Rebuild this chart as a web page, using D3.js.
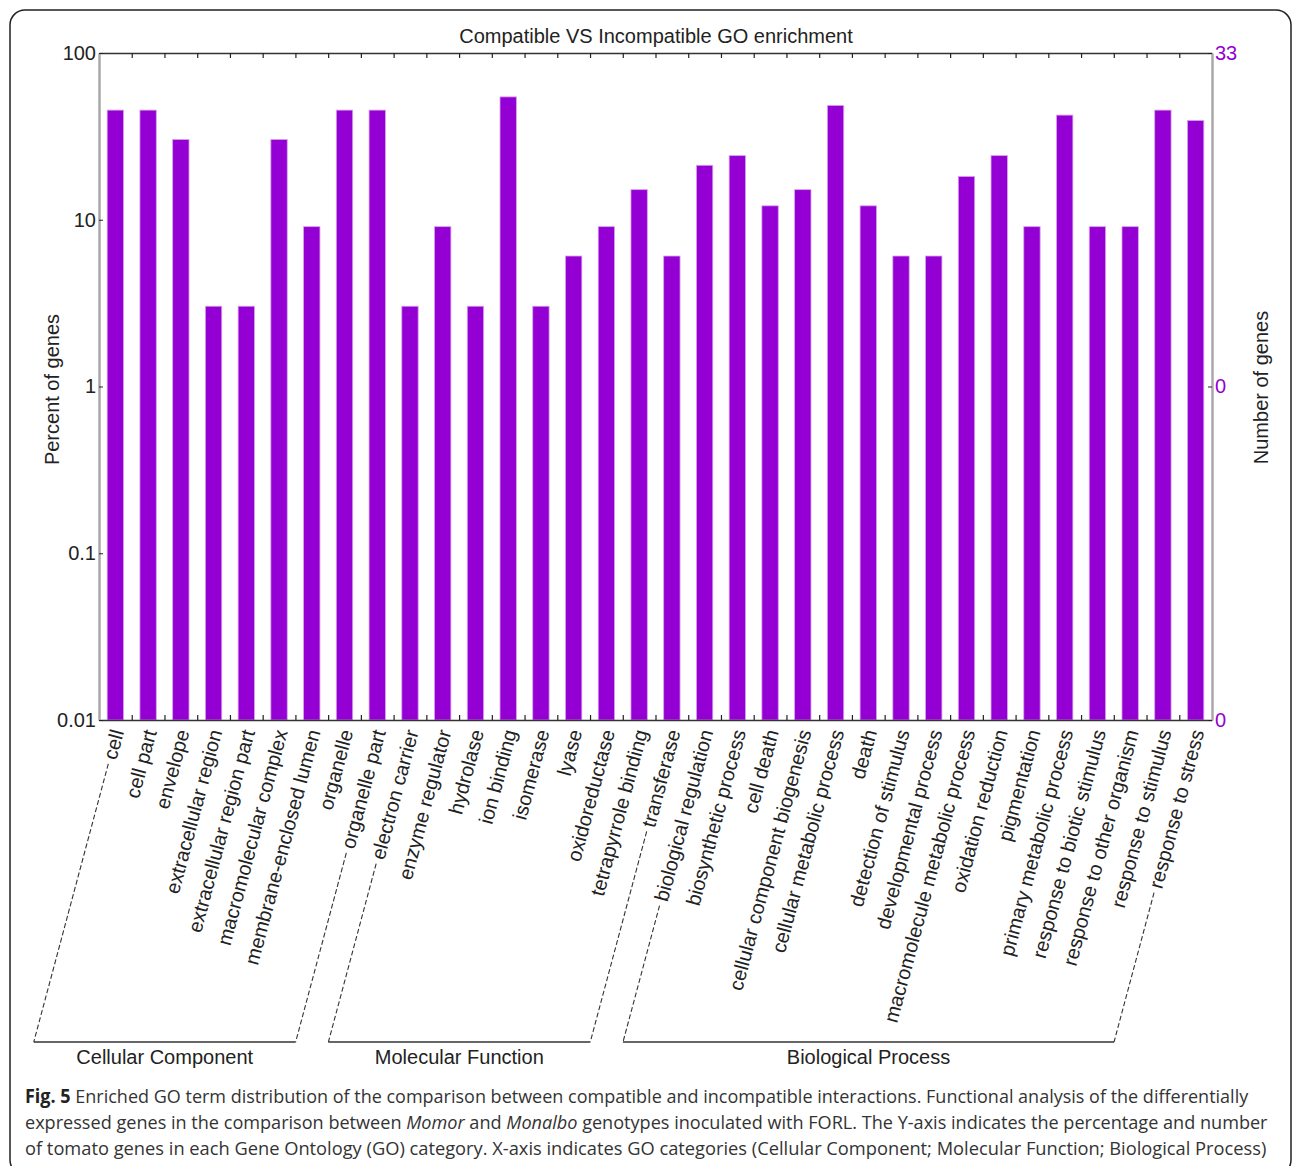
<!DOCTYPE html>
<html>
<head>
<meta charset="utf-8">
<script src="https://cdn.jsdelivr.net/npm/d3@7"></script>
<style>
  body { margin: 0; background: #fff; }
  svg text { font-family: "Liberation Sans", Arial, Helvetica, sans-serif; }
</style>
</head>
<body>
<svg id="fig" width="1292" height="1166"></svg>
<script>
// GO terms on the x axis, in plotting order
const categories = [
  "cell", "cell part", "envelope", "extracellular region", "extracellular region part",
  "macromolecular complex", "membrane-enclosed lumen", "organelle", "organelle part",
  "electron carrier", "enzyme regulator", "hydrolase", "ion binding", "isomerase",
  "lyase", "oxidoreductase", "tetrapyrrole binding", "transferase",
  "biological regulation", "biosynthetic process", "cell death",
  "cellular component biogenesis", "cellular metabolic process", "death",
  "detection of stimulus", "developmental process", "macromolecule metabolic process",
  "oxidation reduction", "pigmentation", "primary metabolic process",
  "response to biotic stimulus", "response to other organism", "response to stimulus",
  "response to stress"
];

// Percent of genes annotated to each term
const percentValues = [
  45.45, 45.45, 30.30, 3.03, 3.03,
  30.30, 9.09, 45.45, 45.45,
  3.03, 9.09, 3.03, 54.55, 3.03,
  6.06, 9.09, 15.15, 6.06,
  21.21, 24.24, 12.12,
  15.15, 48.48, 12.12,
  6.06, 6.06, 18.18,
  24.24, 9.09, 42.42,
  9.09, 9.09, 45.45,
  39.39
];

// Axis ticks
const percentTicks = [0.01, 0.1, 1, 10, 100];
const geneTicks = [0.0033, 0.33, 33];      // right axis, shown as whole numbers
const geneDomain = [0.0033, 33];

// Ontology groups bracketing the term labels
const groups = [
  { name: "Cellular Component", first: "cell", last: "organelle part" },
  { name: "Molecular Function", first: "electron carrier", last: "transferase" },
  { name: "Biological Process", first: "biological regulation", last: "response to stress" }
];

const chartTitle = "Compatible VS Incompatible GO enrichment";
const leftTitle = "Percent of genes";
const rightTitle = "Number of genes";

// Figure caption, as runs of styled text per line
const captionLines = [
  [{ t: "Fig. 5", b: true }, { t: " Enriched GO term distribution of the comparison between compatible and incompatible interactions. Functional analysis of the differentially" }],
  [{ t: "expressed genes in the comparison between " }, { t: "Momor", i: true }, { t: " and " }, { t: "Monalbo", i: true }, { t: " genotypes inoculated with FORL. The Y-axis indicates the percentage and number" }],
  [{ t: "of tomato genes in each Gene Ontology (GO) category. X-axis indicates GO categories (Cellular Component; Molecular Function; Biological Process)" }]
];

// ---- layout ----
const W = 1292, H = 1166;
const plot = { left: 99, right: 1212, top: 53, bottom: 720 };
const barColor = "#9400d3";
const ink = "#222";
const fs = 20;

const svg = d3.select("#fig");

// outer rounded frame
svg.append("rect")
  .attr("x", 10).attr("y", 10)
  .attr("width", 1281).attr("height", 1165)
  .attr("rx", 15).attr("ry", 15)
  .attr("fill", "none").attr("stroke", "#222").attr("stroke-width", 1.5);

// scales
const x = d3.scaleBand()
  .domain(categories)
  .range([plot.left, plot.right])
  .paddingInner(0.5)
  .paddingOuter(0.25);

const xEdge = d3.scaleLinear()
  .domain([0, categories.length])
  .range([plot.left, plot.right]);

const y = d3.scaleLog()
  .domain([percentTicks[0], percentTicks[percentTicks.length - 1]])
  .range([plot.bottom, plot.top]);

const yGenes = d3.scaleLog()
  .domain(geneDomain)
  .range([plot.bottom, plot.top]);

// bars
svg.append("g")
  .selectAll("rect")
  .data(categories)
  .join("rect")
  .attr("x", d => x(d))
  .attr("width", x.bandwidth())
  .attr("y", (d, i) => y(percentValues[i]))
  .attr("height", (d, i) => y(percentTicks[0]) - y(percentValues[i]))
  .attr("fill", barColor)
  .attr("stroke", "#d7a2ee")
  .attr("stroke-width", 0.8);

// top and bottom frame axes with ticks at category boundaries
const edgeTicks = d3.range(1, categories.length);
const topAxis = svg.append("g")
  .attr("transform", `translate(0,${plot.top})`)
  .call(d3.axisTop(xEdge).tickValues(edgeTicks).tickSizeInner(-5).tickSizeOuter(0).tickFormat(""));
const bottomAxis = svg.append("g")
  .attr("transform", `translate(0,${plot.bottom})`)
  .call(d3.axisBottom(xEdge).tickValues(edgeTicks).tickSizeInner(-5).tickSizeOuter(0).tickFormat(""));
[topAxis, bottomAxis].forEach(g => {
  g.select(".domain").attr("stroke", "#333").attr("stroke-width", 1.5);
  g.selectAll(".tick line").attr("stroke", "#222").attr("stroke-width", 1.2);
});

// left axis: percent of genes
const leftAxis = svg.append("g")
  .attr("transform", `translate(${plot.left},0)`)
  .call(d3.axisLeft(y).tickValues(percentTicks).tickFormat(d3.format("~g"))
    .tickSizeInner(-4).tickSizeOuter(0).tickPadding(3));
leftAxis.select(".domain").attr("stroke", "#a8a8a8").attr("stroke-width", 2.5);
leftAxis.selectAll(".tick line").attr("stroke", "#222");
leftAxis.selectAll(".tick text")
  .attr("font-size", fs).attr("fill", ink)
  .attr("font-family", "Liberation Sans, Arial, sans-serif");

// right axis: number of genes
const rightAxis = svg.append("g")
  .attr("transform", `translate(${plot.right},0)`)
  .call(d3.axisRight(yGenes).tickValues(geneTicks).tickFormat(d3.format(".0f"))
    .tickSizeInner(-4).tickSizeOuter(0).tickPadding(3));
rightAxis.select(".domain").attr("stroke", "#a8a8a8").attr("stroke-width", 2.5);
rightAxis.selectAll(".tick line").attr("stroke", "#222");
rightAxis.selectAll(".tick text")
  .attr("font-size", fs).attr("fill", barColor)
  .attr("font-family", "Liberation Sans, Arial, sans-serif");

// titles
svg.append("text")
  .attr("x", (plot.left + plot.right) / 2 + 0.5).attr("y", 43)
  .attr("text-anchor", "middle").attr("font-size", fs).attr("fill", ink)
  .text(chartTitle);

svg.append("text")
  .attr("transform", `translate(59,${(plot.top + plot.bottom) / 2 + 3}) rotate(-90)`)
  .attr("text-anchor", "middle").attr("font-size", fs).attr("fill", ink)
  .text(leftTitle);

svg.append("text")
  .attr("transform", `translate(1268,${(plot.top + plot.bottom) / 2 + 1}) rotate(-90)`)
  .attr("text-anchor", "middle").attr("font-size", fs).attr("fill", ink)
  .text(rightTitle);

// slanted term labels
const angle = -75;
const rad = angle * Math.PI / 180;
const ux = Math.cos(rad), uy = Math.sin(rad);   // reading direction
const labelY = 730, labelDx = 2;
const anchorOf = d => [x(d) + x.bandwidth() / 2 + labelDx, labelY];

const labels = svg.append("g")
  .selectAll("text")
  .data(categories)
  .join("text")
  .attr("transform", d => { const p = anchorOf(d); return `translate(${p[0]},${p[1]}) rotate(${angle})`; })
  .attr("text-anchor", "end")
  .attr("dy", "0.35em")
  .attr("font-size", fs)
  .attr("fill", ink)
  .text(d => d);

const labelLen = {};
labels.each(function (d) { labelLen[d] = this.getComputedTextLength(); });

// group brackets: dashed leaders continuing the first/last labels, joined by a rule
const bracketY = 1042, gap = 5;
const gBr = svg.append("g");
groups.forEach(g => {
  const ends = [g.first, g.last].map(term => {
    const p = anchorOf(term);
    const s0 = labelLen[term] + gap;
    const s1 = (bracketY - p[1]) / (-uy);
    return {
      x0: p[0] - s0 * ux, y0: p[1] - s0 * uy,
      x1: p[0] - s1 * ux, y1: bracketY
    };
  });
  ends.forEach(e => {
    gBr.append("line")
      .attr("x1", e.x0).attr("y1", e.y0).attr("x2", e.x1).attr("y2", e.y1)
      .attr("stroke", "#333").attr("stroke-width", 1.1)
      .attr("stroke-dasharray", "5,2.5");
  });
  gBr.append("line")
    .attr("x1", ends[0].x1).attr("y1", bracketY)
    .attr("x2", ends[1].x1).attr("y2", bracketY)
    .attr("stroke", "#333").attr("stroke-width", 1.5);
  gBr.append("text")
    .attr("x", (ends[0].x1 + ends[1].x1) / 2).attr("y", 1064)
    .attr("text-anchor", "middle").attr("font-size", fs).attr("fill", ink)
    .text(g.name);
});

// caption, condensed to the column width
const capX = 25;
const capBaselines = [1103, 1129, 1155];
const capWidths = [1224, 1243, 1243];
captionLines.forEach((runs, li) => {
  const t = svg.append("text")
    .attr("x", capX).attr("y", capBaselines[li])
    .attr("font-size", 19).attr("fill", "#333")
    .style("font-family", "'Open Sans', 'Noto Sans', sans-serif");
  runs.forEach(r => {
    t.append("tspan")
      .attr("font-weight", r.b ? "bold" : null)
      .attr("fill", r.b ? "#222" : null)
      .attr("font-style", r.i ? "italic" : null)
      .text(r.t);
  });
  const w = t.node().getComputedTextLength();
  const k = capWidths[li] / w;
  t.attr("transform", `translate(${capX},0) scale(${k},1) translate(${-capX},0)`);
});
</script>
</body>
</html>
